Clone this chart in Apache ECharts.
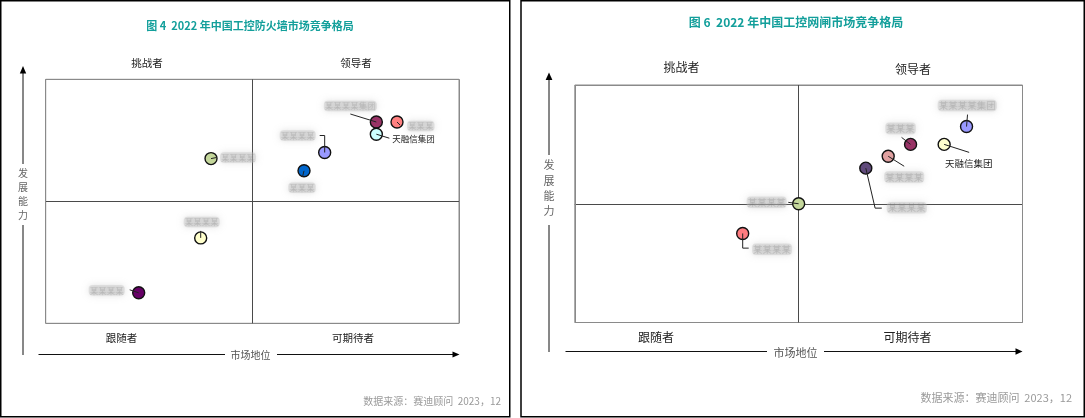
<!DOCTYPE html>
<html><head><meta charset="utf-8">
<script src="https://cdn.jsdelivr.net/npm/echarts@6/dist/echarts.min.js"></script>
<style>html,body{margin:0;padding:0;background:#fff}#c{width:1085px;height:418px}</style>
</head><body><div id="c"></div>
<script>
// ---- Figure 4: 2022 industrial-control firewall market (x: 市场地位, y: 发展能力, 0-10) ----
// company names are blurred in the source; neutral placeholders are used except the legible one
const fwNames   = ['某某某某集团', '某某某', '天融信集团', '某某某某', '某某某', '某某某某', '某某某某', '某某某某'];
const fwMarket  = [8.0, 8.5, 8.0, 6.75, 6.25, 4.0, 3.75, 2.25];
const fwAbility = [8.25, 8.25, 7.75, 7.0, 6.25, 6.75, 3.5, 1.25];

// ---- Figure 6: 2022 industrial-control gateway market ----
const gwNames   = ['某某某某集团', '天融信集团', '某某某', '某某某某', '某某某某', '某某某某', '某某某某'];
const gwMarket  = [8.75, 8.25, 7.5, 7.0, 6.5, 5.0, 3.75];
const gwAbility = [8.25, 7.5, 7.5, 7.0, 6.5, 5.0, 3.75];

const quadrantLabels = ['挑战者', '领导者', '跟随者', '可期待者'];
const xName = '市场地位';
const yName = '发展能力';
const titles = ['图 4  2022 年中国工控防火墙市场竞争格局', '图 6  2022 年中国工控网闸市场竞争格局'];
const sourceText = '数据来源：赛迪顾问  2023，12';

// ---- styles ----
const fwColors = ['#993366', '#ff8080', '#ccffff', '#9999ff', '#0066cc', '#c4d79b', '#ffffcc', '#660066'];
const gwColors = ['#9999ff', '#ffffcc', '#993366', '#e0a0a0', '#604a7b', '#c4d79b', '#ff7c80'];
const fwLayout = [
  {path: [[0,0],[-26,-8]], lx: -26, ly: -16, align: 'center'},
  {path: [[0,0],[3,3]], lx: 10, ly: 4, align: 'left'},
  {path: [[0,0],[13,4]], lx: 16, ly: 4.5, align: 'left'},
  {path: [[0,0],[0,-17],[-5,-17]], lx: -9, ly: -17, align: 'right'},
  {path: [[0,0],[-1.5,6]], lx: -2, ly: 17, align: 'center'},
  {path: [[0,0],[5,-1]], lx: 9, ly: -1, align: 'left'},
  {path: [[0,0],[0,-7]], lx: 1, ly: -16, align: 'center'},
  {path: [[0,0],[-9,-3]], lx: -14, ly: -2.5, align: 'right'}
];
const gwLayout = [
  {path: [[0,0],[1,-12]], lx: 0.7, ly: -21, align: 'center'},
  {path: [[0,0],[25,8]], lx: 24.7, ly: 18.7, align: 'center'},
  {path: [[0,0],[-9,-7]], lx: -10, ly: -16, align: 'center'},
  {path: [[0,0],[16,10]], lx: 16, ly: 20.7, align: 'center'},
  {path: [[0,0],[9.3,40],[16,40]], lx: 21, ly: 39.7, align: 'left'},
  {path: [[0,0],[-10.4,-1.4]], lx: -12, ly: -1.4, align: 'right'},
  {path: [[0,0],[0,14.7],[6,14.7]], lx: 9.4, ly: 15.7, align: 'left'}
];
const FONT = '"Noto Sans CJK SC", "Noto Sans", sans-serif';
const TEAL = '#139f9b';

function makeRender(names, colors, layout, fontSize) {
  return function (params, api) {
    const i = params.dataIndex;
    const p = api.coord([api.value(0), api.value(1)]);
    const L = layout[i];
    const pts = L.path.map(d => [p[0] + d[0], p[1] + d[1]]);
    const sharp = names[i] === '天融信集团';
    const style = sharp ? {
      text: names[i], align: L.align, verticalAlign: 'middle',
      font: fontSize + 'px ' + FONT, fill: '#222'
    } : {
      // source labels are blurred: draw a soft grey smudge with faint text
      text: names[i], align: L.align, verticalAlign: 'middle',
      font: fontSize + 'px ' + FONT,
      fill: 'rgba(110,110,110,0.22)',
      textShadowBlur: 3, textShadowColor: 'rgba(90,90,90,1)',
      backgroundColor: 'rgba(195,195,195,0.38)',
      borderRadius: 4, padding: [1, 1],
      shadowBlur: 7, shadowColor: 'rgba(175,175,175,0.9)'
    };
    return {
      type: 'group',
      children: [
        {type: 'circle', shape: {cx: p[0], cy: p[1], r: 6},
         style: {fill: colors[i], stroke: '#111', lineWidth: 1.4}},
        {type: 'polyline', shape: {points: pts},
         style: {stroke: '#222', lineWidth: 1, fill: 'none'}},
        {type: 'text', x: p[0] + L.lx, y: p[1] + L.ly, style: style}
      ]
    };
  };
}

function axis(gridIndex) {
  return {
    type: 'value', gridIndex: gridIndex, min: 0, max: 10, interval: 5,
    axisLine: {show: false}, axisTick: {show: false}, axisLabel: {show: false},
    splitLine: {show: true, lineStyle: {color: ['#8a8a8a', '#4a4a4a', '#8a8a8a'], width: 1}}
  };
}

function txt(text, x, y, size, color, opts) {
  return Object.assign({
    type: 'text', x: x, y: y, silent: true,
    style: {text: text, font: size + 'px ' + FONT, fill: color, align: 'center', verticalAlign: 'middle'}
  }, opts || {});
}
function seg(x1, y1, x2, y2, w) {
  return {type: 'line', silent: true, shape: {x1: x1, y1: y1, x2: x2, y2: y2}, style: {stroke: '#111', lineWidth: w || 1}};
}
function tri(points) {
  return {type: 'polygon', silent: true, shape: {points: points}, style: {fill: '#000'}};
}

const graphics = [
  // panel frames
  {type: 'rect', silent: true, shape: {x: 0.75, y: 0.75, width: 509, height: 416}, style: {fill: 'none', stroke: '#000', lineWidth: 1.5}},
  {type: 'rect', silent: true, shape: {x: 521, y: 0.75, width: 563.25, height: 416}, style: {fill: 'none', stroke: '#000', lineWidth: 1.5}},
  // titles
  txt(titles[0], 250, 26, 11, TEAL, {style: {text: titles[0], font: 'bold 11px ' + FONT, fill: TEAL, align: 'center', verticalAlign: 'middle'}}),
  txt(titles[1], 796, 22.5, 12, TEAL, {style: {text: titles[1], font: 'bold 12px ' + FONT, fill: TEAL, align: 'center', verticalAlign: 'middle'}}),
  // quadrant labels left
  txt(quadrantLabels[0], 147, 63, 10.5, '#222'),
  txt(quadrantLabels[1], 356, 63, 10.5, '#222'),
  txt(quadrantLabels[2], 121.5, 338, 10.5, '#222'),
  txt(quadrantLabels[3], 353, 338, 10.5, '#222'),
  // quadrant labels right
  txt(quadrantLabels[0], 681.5, 67.5, 12, '#222'),
  txt(quadrantLabels[1], 913, 69, 12, '#222'),
  txt(quadrantLabels[2], 656, 337, 12, '#222'),
  txt(quadrantLabels[3], 907.5, 337, 12, '#222'),
  // left arrows
  seg(23, 355, 23, 225), seg(23, 164, 23, 72), tri([[23, 66], [19.8, 73.5], [26.2, 73.5]]),
  seg(38.5, 354.5, 225, 354.5), seg(277, 354.5, 454, 354.5), tri([[459.5, 354.5], [452.5, 351.5], [452.5, 357.5]]),
  txt(yName.split('').join('\n'), 23, 194, 10, '#666', {style: {text: yName.split('').join('\n'), font: '10px ' + FONT, fill: '#666', align: 'center', verticalAlign: 'middle', lineHeight: 14}}),
  txt(xName, 250.5, 355.5, 10, '#555'),
  // right arrows
  seg(549, 352, 549, 225), seg(549, 155, 549, 79), tri([[549, 72.5], [545.6, 80], [552.4, 80]]),
  seg(565.5, 351.5, 767, 351.5), seg(824, 351.5, 1016, 351.5), tri([[1022.5, 351.5], [1015.5, 348.3], [1015.5, 354.7]]),
  txt(yName.split('').join('\n'), 549, 188, 11, '#666', {style: {text: yName.split('').join('\n'), font: '11px ' + FONT, fill: '#666', align: 'center', verticalAlign: 'middle', lineHeight: 15.3}}),
  txt(xName, 795.5, 352.5, 11, '#555'),
  // sources
  txt(sourceText, 501, 401, 10, '#9a9a9a', {style: {text: sourceText, font: '10px ' + FONT, fill: '#9a9a9a', align: 'right', verticalAlign: 'middle'}}),
  txt(sourceText, 1072, 397.5, 11, '#9a9a9a', {style: {text: sourceText, font: '11px ' + FONT, fill: '#9a9a9a', align: 'right', verticalAlign: 'middle'}})
];

const chart = echarts.init(document.getElementById('c'), null, {renderer: 'canvas'});
chart.setOption({
  animation: false,
  backgroundColor: '#fff',
  grid: [
    {left: 45.7, top: 79.3, width: 413.3, height: 244, show: true, borderColor: '#8a8a8a', borderWidth: 1, backgroundColor: 'transparent'},
    {left: 574.8, top: 85, width: 447.7, height: 237.5, show: true, borderColor: '#8a8a8a', borderWidth: 1, backgroundColor: 'transparent'}
  ],
  xAxis: [axis(0), axis(1)],
  yAxis: [axis(0), axis(1)],
  series: [
    {type: 'custom', name: titles[0], xAxisIndex: 0, yAxisIndex: 0,
     encode: {x: 0, y: 1},
     data: fwMarket.map((v, i) => [v, fwAbility[i]]),
     renderItem: makeRender(fwNames, fwColors, fwLayout, 8.5)},
    {type: 'custom', name: titles[1], xAxisIndex: 1, yAxisIndex: 1,
     encode: {x: 0, y: 1},
     data: gwMarket.map((v, i) => [v, gwAbility[i]]),
     renderItem: makeRender(gwNames, gwColors, gwLayout, 9.5)}
  ],
  graphic: graphics
});
</script>
</body></html>
